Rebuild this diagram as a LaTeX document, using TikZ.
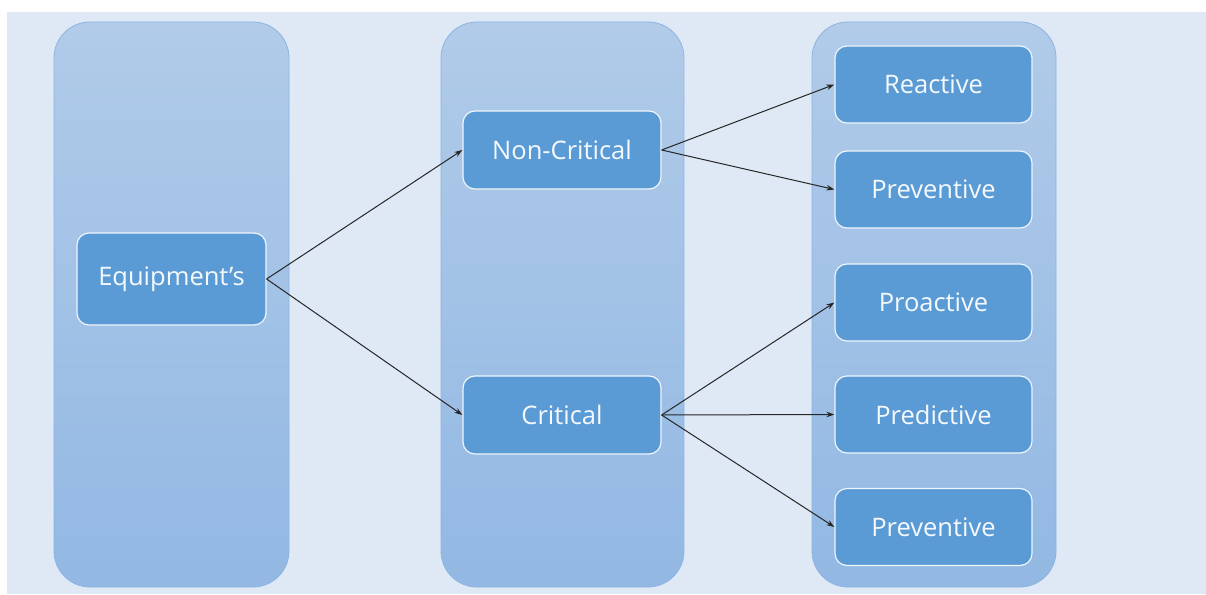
\documentclass[tikz,border=0pt]{standalone}
\usepackage{fontspec}
\setmainfont{Open Sans}
\usetikzlibrary{arrows.meta}
\definecolor{pagebg}{HTML}{DEE9F5}
\definecolor{coltop}{HTML}{B1CBE9}
\definecolor{colbot}{HTML}{92B8E3}
\definecolor{coledge}{HTML}{8DB4E2}
\definecolor{boxfill}{HTML}{5B9BD5}
\tikzset{
  x=1pt, y=-1pt,
  column/.style={rounded corners=36pt, top color=coltop, bottom color=colbot, draw=coledge, line width=0.8pt},
  item/.style={rectangle, rounded corners=12pt, fill=boxfill, draw=white!90!boxfill, line width=1.2pt,
    text=white!94!boxfill, font=\fontsize{25.5}{30}\selectfont, inner sep=0pt, align=center},
  link/.style={-{Stealth[length=8pt,width=5.5pt]}, line width=1pt, black!85}
}
\begin{document}
\begin{tikzpicture}
% page and background band
\fill[white] (0,0) rectangle (1206,594);
\useasboundingbox (0,0) rectangle (1206,594);
\fill[pagebg] (7,12) rectangle (1206,594);
% three columns
\shade[column] (54,22) rectangle (289,587);
\shade[column] (441,22) rectangle (684,587);
\shade[column] (812,22) rectangle (1056,587);
% boxes
\node[item, minimum width=189pt, minimum height=92pt] (eq) at (171.5,279) {Equipment’s};
\node[item, minimum width=198pt, minimum height=78pt] (nc) at (562,150) {Non-Critical};
\node[item, minimum width=198pt, minimum height=78pt] (cr) at (562,415) {Critical};
\node[item, minimum width=197pt, minimum height=77pt] (r1) at (933.5,84.5) {Reactive};
\node[item, minimum width=197pt, minimum height=77pt] (r2) at (933.5,189.5) {Preventive};
\node[item, minimum width=197pt, minimum height=77pt] (r3) at (933.5,302.5) {Proactive};
\node[item, minimum width=197pt, minimum height=77pt] (r4) at (933.5,414.5) {Predictive};
\node[item, minimum width=197pt, minimum height=77pt] (r5) at (933.5,527) {Preventive};
% connectors
\draw[link] (eq.east) -- (nc.west);
\draw[link] (eq.east) -- (cr.west);
\draw[link] (nc.east) -- (r1.west);
\draw[link] (nc.east) -- (r2.west);
\draw[link] (cr.east) -- (r3.west);
\draw[link] (cr.east) -- (r4.west);
\draw[link] (cr.east) -- (r5.west);
\end{tikzpicture}
\end{document}
